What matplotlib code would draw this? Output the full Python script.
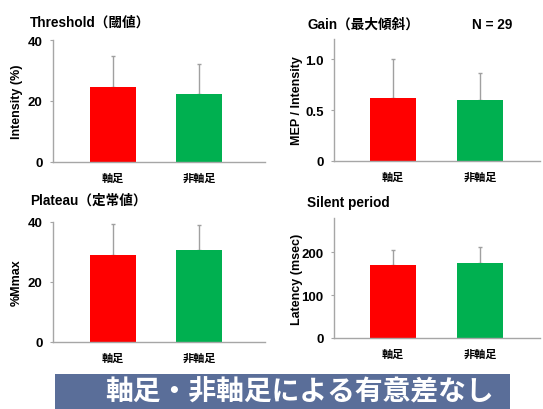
import matplotlib.pyplot as plt
from matplotlib.patches import Rectangle

plt.rcParams["font.family"] = ["Liberation Sans", "Noto Sans CJK JP", "DejaVu Sans"]

groups = ["軸足", "非軸足"]
bar_colors = ["#ff0000", "#00b050"]

threshold_mean = [24.6, 22.3]
threshold_sd = [10.2, 9.8]
gain_mean = [0.62, 0.60]
gain_sd = [0.38, 0.27]
plateau_mean = [29.0, 30.7]
plateau_sd = [10.3, 8.3]
silent_mean = [170, 175]
silent_sd = [35, 37]

W, H = 543, 410
fig = plt.figure(figsize=(W / 100, H / 100), dpi=100)
axis_gray = "#a6a6a6"


def px_axes(left, right, top, bottom):
    return fig.add_axes([left / W, 1 - bottom / H, (right - left) / W, (bottom - top) / H])


def bar_panel(ax, means, sds, ylim, yticks, yticklabels, ylabel, xlim, label_x):
    x = range(len(groups))
    ax.bar(x, means, width=0.53, color=bar_colors, zorder=2)
    ax.errorbar(x, means, yerr=[[0] * len(sds), sds], fmt="none",
                ecolor="#a0a0a0", elinewidth=1, capsize=1.2, zorder=1)
    ax.set_xlim(*xlim)
    ax.set_ylim(*ylim)
    ax.set_yticks(yticks)
    ax.set_yticklabels(yticklabels, fontsize=9.5, fontweight="bold")
    ax.set_xticks(list(x))
    ax.set_xticklabels(groups, fontsize=8, fontweight="bold")
    ax.tick_params(axis="x", length=0, pad=8)
    ax.tick_params(axis="y", length=2.5, width=0.8, color=axis_gray, pad=5)
    for s in ["top", "right"]:
        ax.spines[s].set_visible(False)
    for s in ["left", "bottom"]:
        ax.spines[s].set_color(axis_gray)
        ax.spines[s].set_linewidth(1.0)
    ax.set_ylabel(ylabel, fontsize=9, fontweight="bold")
    ax.yaxis.set_label_coords(label_x, 0.5)


ax1 = px_axes(53, 265, 41, 163)
bar_panel(ax1, threshold_mean, threshold_sd, (0, 40), [0, 20, 40], ["0", "20", "40"],
          "Intensity (%)", (-0.7, 1.77), -0.14)

ax2 = px_axes(334, 540, 40, 162)
bar_panel(ax2, gain_mean, gain_sd, (0, 1.2), [0, 0.5, 1.0], ["0", "0.5", "1.0"],
          "MEP / Intensity", (-0.68, 1.69), -0.15)

ax3 = px_axes(53, 265, 223, 343)
bar_panel(ax3, plateau_mean, plateau_sd, (0, 40), [0, 20, 40], ["0", "20", "40"],
          "%Mmax", (-0.7, 1.77), -0.145)

ax4 = px_axes(334, 540, 219, 339)
bar_panel(ax4, silent_mean, silent_sd, (0, 280), [0, 100, 200], ["0", "100", "200"],
          "Latency (msec)", (-0.68, 1.69), -0.15)

titles = [
    (30, 23, "Threshold（閾値）"),
    (307, 25, "Gain（最大傾斜）"),
    (472, 25, "N = 29"),
    (30, 201, "Plateau（定常値）"),
    (307, 203, "Silent period"),
]
for tx, ty, txt in titles:
    fig.text(tx / W, 1 - ty / H, txt, fontsize=9.8, fontweight="bold",
             ha="left", va="center")

# summary banner along the bottom edge
fig.patches.append(Rectangle((55 / W, 0), (510 - 55) / W, (410 - 375) / H,
                             transform=fig.transFigure, facecolor="#5a6e99",
                             edgecolor="none"))
fig.text(299 / W, 1 - 392 / H, "軸足・非軸足による有意差なし", fontsize=20,
         fontweight="bold", color="white", ha="center", va="center",
         family=["Noto Sans CJK JP", "DejaVu Sans"])

fig.savefig("out.png", dpi=100)
